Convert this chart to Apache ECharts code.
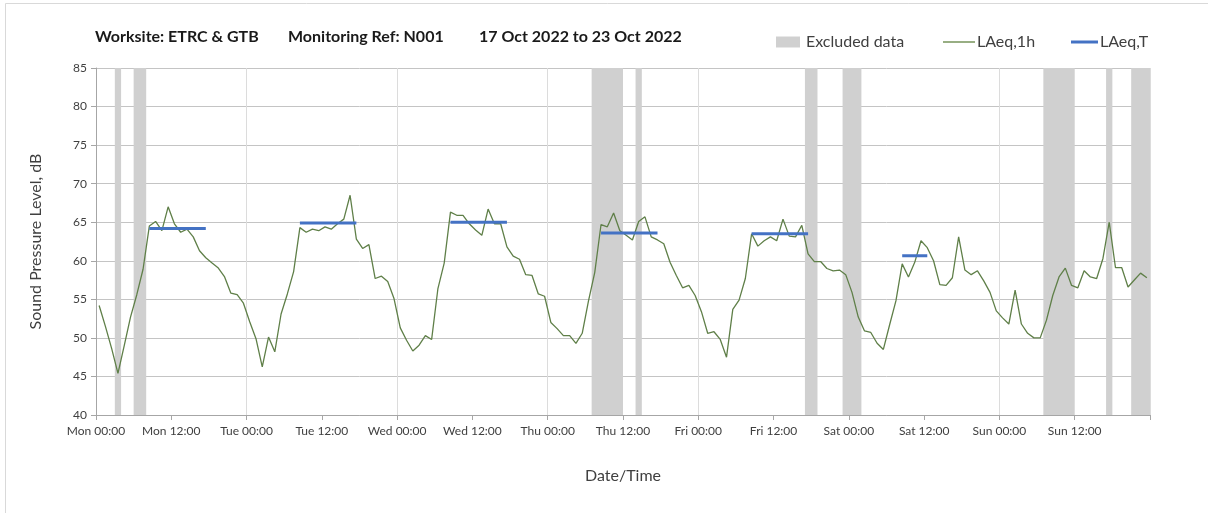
<!DOCTYPE html>
<html>
<head>
<meta charset="utf-8">
<script src="https://cdn.jsdelivr.net/npm/echarts@6/dist/echarts.min.js"></script>
<style>html,body{margin:0;padding:0;background:#fff;}#chart{width:1208px;height:513px;}</style>
</head>
<body>
<div id="chart"></div>
<script>
// Hourly LAeq,1h values, Mon 00:00 .. Sun 23:00 (plotted at the hour mid-point)
const laeq1h = [
  54.2, 51.5, 48.6, 45.4, 49.0, 52.7, 55.6, 58.9, 64.5, 65.1, 63.9, 67.0,
  64.8, 63.7, 64.1, 63.1, 61.3, 60.4, 59.7, 59.05, 57.9, 55.8, 55.6, 54.5,
  52.1, 49.9, 46.25, 50.1, 48.2, 53.1, 55.7, 58.6, 64.3, 63.7, 64.1, 63.9,
  64.4, 64.1, 64.8, 65.4, 68.5, 62.8, 61.6, 62.1, 57.7, 58.0, 57.3, 55.1,
  51.3, 49.7, 48.3, 49.05, 50.3, 49.8, 56.4, 59.7, 66.3, 65.9, 65.9, 64.8,
  64.0, 63.3, 66.7, 64.8, 64.8, 61.8, 60.6, 60.2, 58.2, 58.1, 55.7, 55.4,
  52.0, 51.2, 50.3, 50.3, 49.3, 50.6, 54.8, 58.5, 64.7, 64.4, 66.2, 63.9,
  63.3, 62.7, 65.1, 65.7, 63.1, 62.7, 62.2, 59.8, 58.1, 56.5, 56.8, 55.5,
  53.4, 50.6, 50.8, 49.8, 47.5, 53.7, 54.9, 57.7, 63.5, 61.9, 62.6, 63.1,
  62.6, 65.4, 63.2, 63.1, 64.6, 60.9, 59.9, 59.9, 59.0, 58.7, 58.8, 58.2,
  55.9, 52.7, 50.9, 50.7, 49.3, 48.5, 51.7, 54.8, 59.6, 57.9, 59.8, 62.6,
  61.7, 60.0, 56.9, 56.8, 57.8, 63.1, 58.8, 58.2, 58.7, 57.4, 55.9, 53.5,
  52.6, 51.8, 56.2, 51.8, 50.6, 50.0, 50.0, 52.3, 55.5, 57.9, 59.05, 56.8,
  56.5, 58.7, 57.9, 57.7, 60.3, 65.0, 59.1, 59.1, 56.6, 57.5, 58.4, 57.8
];
// LAeq,T periods (hours from Mon 00:00)
const periodStart = [8.5, 32.5, 56.5, 80.5, 104.5, 128.5];
const periodEnd   = [17.5, 41.5, 65.5, 89.5, 113.5, 132.5];
const periodLevel = [64.2, 64.9, 65.0, 63.6, 63.5, 60.65];
// Excluded data ranges (hours from Mon 00:00)
const excludedStart = [3, 6, 79, 86, 113, 119, 151, 161, 165];
const excludedEnd   = [4, 8, 84, 87, 115, 122, 156, 162, 168];
// X tick labels, every 12 h
const tickLabels = ['Mon 00:00','Mon 12:00','Tue 00:00','Tue 12:00','Wed 00:00','Wed 12:00',
  'Thu 00:00','Thu 12:00','Fri 00:00','Fri 12:00','Sat 00:00','Sat 12:00','Sun 00:00','Sun 12:00'];

const FONT = 'Lato, "Open Sans", sans-serif';
const chart = echarts.init(document.getElementById('chart'), null, {renderer: 'canvas'});

const lineData = laeq1h.map((v, i) => [i + 0.5, v]);
const bandData = excludedStart.map((s, i) => [s, excludedEnd[i]]);

const periodSeries = periodStart.map((s, i) => ({
  type: 'line', name: 'LAeq,T', xAxisIndex: 0, yAxisIndex: 0,
  data: [[s, periodLevel[i]], [periodEnd[i], periodLevel[i]]],
  symbol: 'none', silent: true, z: 4,
  lineStyle: {color: '#4472c4', width: 3, cap: 'butt'},
  itemStyle: {color: '#4472c4'}
}));

const titleStyle = {fontFamily: FONT, fontSize: 16, fontWeight: 'bold', color: '#1a1a1a'};

const option = {
  animation: false,
  backgroundColor: '#ffffff',
  graphic: [{
    type: 'rect', silent: true, z: -10,
    shape: {x: 5.5, y: 3.5, width: 1300, height: 600},
    style: {fill: 'none', stroke: '#d9d9d9', lineWidth: 1}
  }],
  title: [
    {text: 'Worksite: ETRC & GTB', left: 95, top: 29, padding: 0, textStyle: titleStyle},
    {text: 'Monitoring Ref: N001', left: 288, top: 29, padding: 0, textStyle: titleStyle},
    {text: '17 Oct 2022 to 23 Oct 2022', left: 479, top: 29, padding: 0, textStyle: titleStyle}
  ],
  legend: [
    {left: 776, top: 34, padding: 0, itemWidth: 24, itemHeight: 11,
     data: [{name: 'Excluded data', icon: 'rect'}],
     textStyle: {fontFamily: FONT, fontSize: 16, color: '#404040', padding: [0, 0, 0, 1]}},
    {left: 943, top: 34, padding: 0, itemWidth: 32, itemHeight: 1.5,
     data: [{name: 'LAeq,1h', icon: 'rect'}],
     textStyle: {fontFamily: FONT, fontSize: 16, color: '#404040', padding: [0, 0, 0, -3]}},
    {left: 1071, top: 34, padding: 0, itemWidth: 27, itemHeight: 3,
     data: [{name: 'LAeq,T', icon: 'rect'}],
     textStyle: {fontFamily: FONT, fontSize: 16, color: '#404040', padding: [0, 0, 0, -3]}}
  ],
  grid: {left: 96, right: 58, top: 68, bottom: 98, containLabel: false},
  xAxis: [{
    type: 'value', min: 0, max: 168, interval: 12,
    name: 'Date/Time', nameLocation: 'middle', nameGap: 53,
    nameTextStyle: {fontFamily: FONT, fontSize: 16, color: '#404040'},
    axisLine: {show: true, onZero: false, lineStyle: {color: '#a6a6a6', width: 1}},
    axisTick: {show: true, inside: false, length: 5, lineStyle: {color: '#a6a6a6'}},
    axisLabel: {fontFamily: FONT, fontSize: 12, color: '#404040', margin: 10,
      showMaxLabel: true, showMinLabel: true,
      formatter: v => tickLabels[Math.round(v / 12)] || ''},
    splitLine: {show: false}
  }, {
    type: 'value', min: 0, max: 168, interval: 24, position: 'bottom',
    axisLine: {show: false}, axisTick: {show: false}, axisLabel: {show: false},
    splitLine: {show: true, lineStyle: {color: '#dcdcdc', width: 1}}
  }],
  yAxis: {
    type: 'value', min: 40, max: 85, interval: 5,
    name: 'Sound Pressure Level, dB', nameLocation: 'middle', nameGap: 52,
    nameTextStyle: {fontFamily: FONT, fontSize: 16, color: '#404040'},
    axisLine: {show: true, lineStyle: {color: '#a6a6a6', width: 1}},
    axisTick: {show: true, inside: false, length: 5, lineStyle: {color: '#a6a6a6'}},
    axisLabel: {fontFamily: FONT, fontSize: 12, color: '#404040', margin: 9},
    splitLine: {show: true, lineStyle: {color: '#c4c4c4', width: 1}}
  },
  series: [
    {
      type: 'custom', name: 'Excluded data', xAxisIndex: 0, yAxisIndex: 0,
      data: bandData, encode: {x: [0, 1]}, silent: true, z: 1, clip: true,
      itemStyle: {color: '#d0d0d0'},
      renderItem: function (params, api) {
        const cs = params.coordSys;
        const x0 = api.coord([api.value(0), 40])[0];
        const x1 = api.coord([api.value(1), 40])[0];
        return {type: 'rect', shape: {x: x0, y: cs.y, width: x1 - x0, height: cs.height},
                style: {fill: '#d0d0d0'}};
      }
    },
    {
      type: 'line', name: 'LAeq,1h', xAxisIndex: 0, yAxisIndex: 0,
      data: lineData, symbol: 'none', silent: true, z: 3,
      lineStyle: {color: '#5f7f48', width: 1.3},
      itemStyle: {color: '#76935a'}
    }
  ].concat(periodSeries)
};
chart.setOption(option);
</script>
</body>
</html>
